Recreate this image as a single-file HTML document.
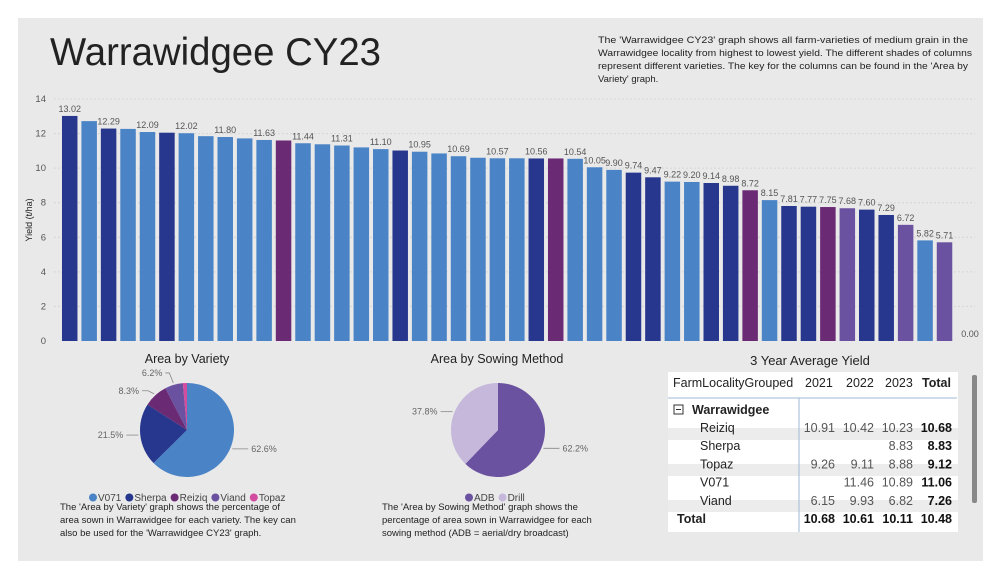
<!DOCTYPE html>
<html><head><meta charset="utf-8">
<style>
body{margin:0;background:#fff;width:1001px;height:579px;overflow:hidden;font-family:"Liberation Sans",sans-serif;}
svg text{font-family:"Liberation Sans",sans-serif;}
</style></head><body>
<svg id="s" width="1001" height="579" viewBox="0 0 1001 579" xmlns="http://www.w3.org/2000/svg">
<rect x="18" y="18" width="965" height="543" fill="#e9e9e9"/>
<text x="50" y="65" font-size="39" fill="#222" textLength="331" lengthAdjust="spacingAndGlyphs">Warrawidgee CY23</text>
<g font-size="9.5" fill="#222">
<text x="598" y="43" textLength="370" lengthAdjust="spacingAndGlyphs">The 'Warrawidgee CY23' graph shows all farm-varieties of medium grain in the</text>
<text x="598" y="56" textLength="374" lengthAdjust="spacingAndGlyphs">Warrawidgee locality from highest to lowest yield. The different shades of columns</text>
<text x="598" y="69" textLength="370" lengthAdjust="spacingAndGlyphs">represent different varieties. The key for the columns can be found in the 'Area by</text>
<text x="598" y="82">Variety' graph.</text>
</g>
<g id="bars"></g>
<text transform="translate(32,220) rotate(-90)" font-size="9" fill="#222" text-anchor="middle">Yield (t/ha)</text>

<g>
<text x="187" y="363" font-size="12.5" text-anchor="middle" fill="#222">Area by Variety</text>
<g id="pie1"></g>
<g id="leg1" font-size="10" fill="#444"></g>
<g font-size="9.5" fill="#222">
<text x="60" y="510">The 'Area by Variety' graph shows the percentage of</text>
<text x="60" y="523">area sown in Warrawidgee for each variety. The key can</text>
<text x="60" y="536">also be used for the 'Warrawidgee CY23' graph.</text>
</g></g>

<g>
<text x="497" y="363" font-size="12.5" text-anchor="middle" fill="#222">Area by Sowing Method</text>
<g id="pie2"></g>
<g id="leg2" font-size="10" fill="#444"></g>
<g font-size="9.5" fill="#222">
<text x="382" y="510">The 'Area by Sowing Method' graph shows the</text>
<text x="382" y="523">percentage of area sown in Warrawidgee for each</text>
<text x="382" y="536">sowing method (ADB = aerial/dry broadcast)</text>
</g></g>

<g>
<text x="810" y="365" font-size="13" text-anchor="middle" fill="#222">3 Year Average Yield</text>
<rect x="668" y="372" width="290" height="160" fill="#fff"/>
<rect x="668" y="428" width="290" height="12" fill="#ececec"/>
<rect x="668" y="464" width="290" height="12" fill="#ececec"/>
<rect x="668" y="500" width="290" height="12" fill="#ececec"/>
<line x1="668" y1="398" x2="957" y2="398" stroke="#9fb9d6"/>
<line x1="799" y1="398" x2="799" y2="532" stroke="#9fb9d6"/>
<rect x="972" y="375" width="5" height="128" rx="2" fill="#888"/>
<g font-size="12.5" fill="#222">
<text x="673" y="387">FarmLocalityGrouped</text>
<text x="805" y="387">2021</text><text x="846" y="387">2022</text><text x="885" y="387">2023</text>
<text x="922" y="387" font-weight="bold">Total</text>
<rect x="674" y="405" width="9" height="9" fill="none" stroke="#333"/>
<line x1="676" y1="409.5" x2="681" y2="409.5" stroke="#333"/>
<text x="692" y="414" font-weight="bold">Warrawidgee</text>
</g>
<g id="tbl" font-size="12.5" fill="#222"></g>
</g>
</svg>
<script>
const ns="http://www.w3.org/2000/svg";
// ---- bar chart data ----
const barValues=[13.02,12.72,12.29,12.27,12.09,12.05,12.02,11.85,11.80,11.72,11.63,11.60,11.44,11.38,11.31,11.20,11.10,11.02,10.95,10.85,10.69,10.60,10.57,10.57,10.56,10.56,10.54,10.05,9.90,9.74,9.47,9.22,9.20,9.14,8.98,8.72,8.15,7.81,7.77,7.75,7.68,7.60,7.29,6.72,5.82,5.71,0.00];
const barVariety=["Sherpa","V071","Sherpa","V071","V071","Sherpa","V071","V071","V071","V071","V071","Reiziq","V071","V071","V071","V071","V071","Sherpa","V071","V071","V071","V071","V071","V071","Sherpa","Reiziq","V071","V071","V071","Sherpa","Sherpa","V071","V071","Sherpa","Sherpa","Reiziq","V071","Sherpa","Sherpa","Reiziq","Viand","Sherpa","Sherpa","Viand","V071","Viand","V071"];
const barLabelShown=[1,0,1,0,1,0,1,0,1,0,1,0,1,0,1,0,1,0,1,0,1,0,1,0,1,0,1,1,1,1,1,1,1,1,1,1,1,1,1,1,1,1,1,1,1,1,1];
const yTicks=[0,2,4,6,8,10,12,14];
const varieties=["V071","Sherpa","Reiziq","Viand","Topaz"];
const varietyShare=[62.6,21.5,8.3,6.2,1.4];
const methods=["ADB","Drill"];
const methodShare=[62.2,37.8];
const tableRows=["Reiziq","Sherpa","Topaz","V071","Viand","Total"];
const y2021=["10.91","","9.26","","6.15","10.68"];
const y2022=["10.42","","9.11","11.46","9.93","10.61"];
const y2023=["10.23","8.83","8.88","10.89","6.82","10.11"];
const yTotal=["10.68","8.83","9.12","11.06","7.26","10.48"];

const col={V071:"#4a84c6",Sherpa:"#27378e",Reiziq:"#6a2a74",Viand:"#6a52a0",Topaz:"#d24d9f",ADB:"#6a52a0",Drill:"#c5b8da"};
function mk(tag,attrs,parent){const e=document.createElementNS(ns,tag);for(const k in attrs)e.setAttribute(k,attrs[k]);parent.appendChild(e);return e;}
const y0=341,y1=99,yMax=14;
const yS=v=>y0-(v/yMax)*(y0-y1);
const x0=60,pitch=19.44,bw=15.5;
const xS=i=>x0+pitch*i;
const gb=document.getElementById('bars');
yTicks.forEach(t=>{
  if(t>0){const l=mk('line',{x1:54,x2:975,y1:yS(t),y2:yS(t),stroke:"#d6d6d6","stroke-dasharray":"2,2"},gb);
  
  }
  const tx=mk('text',{x:46,y:yS(t)+3,"font-size":9.5,fill:"#555","text-anchor":"end"},gb);tx.textContent=t;
  
  
});
barValues.forEach((v,i)=>{
  const r=mk('rect',{x:xS(i)+(pitch-bw)/2,y:yS(v),width:bw,height:y0-yS(v),fill:col[barVariety[i]]},gb);
  
  
  if(barLabelShown[i]){
    const t=mk('text',{x:xS(i)+pitch/2+(v===0?6:0),y:yS(v)-4,"font-size":9,fill:"#555","text-anchor":"middle"},gb);
    t.textContent=v.toFixed(2);
    
    
  }
});
function pie(gid,cx,cy,r,names,vals,labOff){
  const g=document.getElementById(gid);let a=0;const tot=vals.reduce((s,v)=>s+v,0);
  vals.forEach((v,i)=>{
    const a1=a+v/tot*2*Math.PI;
    const p=(t)=>[cx+r*Math.sin(t),cy-r*Math.cos(t)];
    const [sx,sy]=p(a),[ex,ey]=p(a1);
    const s=mk('path',{d:`M${cx},${cy}L${sx},${sy}A${r},${r} 0 ${a1-a>Math.PI?1:0} 1 ${ex},${ey}Z`,fill:col[names[i]]},g);
    
    
    if(labOff[i]){
      const m=(a+a1)/2;const [lx,ly]=[cx+(r+2)*Math.sin(m),cy-(r+2)*Math.cos(m)];
      const [dx,dy]=labOff[i];
      mk('polyline',{points:`${lx},${ly} ${lx+dx*0.5},${ly+dy} ${lx+dx},${ly+dy}`,fill:"none",stroke:"#888","stroke-width":0.8},g);
      const t=mk('text',{x:lx+dx+(dx>0?3:-3),y:ly+dy+3,"font-size":9,fill:"#666","text-anchor":dx>0?"start":"end"},g);
      t.textContent=v.toFixed(1)+"%";
      
      
    }
    a=a1;
  });
}
pie('pie1',187,430,47,varieties,varietyShare,[[16,0],[-12,0],[-12,-3],[-8,-10],null]);
pie('pie2',498,430,47,methods,methodShare,[[16,0],[-12,0]]);
function legend(gid,names,x,y){
  const g=document.getElementById(gid);let cx=x;
  names.forEach(n=>{
    const c=mk('circle',{cx:cx+4,cy:y-3.5,r:4,fill:col[n]},g);
    
    
    const t=mk('text',{x:cx+9,y:y},g);t.textContent=n;
    
    
    cx+=9+t.getComputedTextLength()+4;
  });
}
legend('leg1',varieties,89,501);
legend('leg2',methods,465,501);
const tb=document.getElementById('tbl');
tableRows.forEach((n,i)=>{
  const y=432+i*18.2;const tot=n==="Total";
  const t=mk('text',{x:tot?677:700,y:y,"font-weight":tot?"bold":"normal"},tb);t.textContent=n;
  
  
  [[y2021,835],[y2022,874],[y2023,913],[yTotal,952]].forEach(([arr,x],j)=>{
    const c=mk('text',{x:x,y:y,"text-anchor":"end","font-weight":(tot||j===3)?"bold":"normal",fill:(tot||j===3)?"#111":"#555"},tb);
    c.textContent=arr[i];
    
    
  });
});
</script>
</body></html>
